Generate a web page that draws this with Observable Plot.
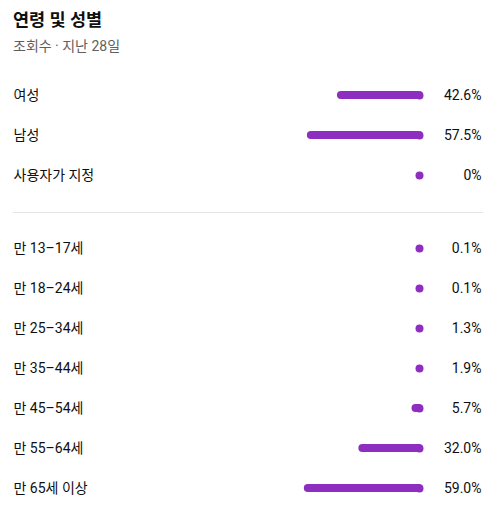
<!DOCTYPE html>
<html>
<head>
<meta charset="utf-8">
<script src="https://cdn.jsdelivr.net/npm/d3@7"></script>
<script src="https://cdn.jsdelivr.net/npm/@observablehq/plot@0.6"></script>
<style>
  html, body { margin: 0; padding: 0; background: #fff; overflow: hidden; }
  body { font-family: Roboto, "Noto Sans CJK KR", sans-serif; color: #0f0f0f; width: 499px; }
  #title { position: absolute; left: 13px; top: 8px; font-size: 17.5px; font-weight: bold; line-height: 24px; }
  #subtitle { position: absolute; left: 13px; top: 36px; font-size: 14px; color: #606060; line-height: 20px; }
  #g1 { position: absolute; left: 0; top: 75px; }
  #divider { position: absolute; left: 13px; top: 212px; width: 470px; height: 1px; background: #e5e5e5; }
  #g2 { position: absolute; left: 0; top: 228px; }
  svg { display: block; }
</style>
</head>
<body>
<div id="title">연령 및 성별</div>
<div id="subtitle">조회수 · 지난 28일</div>
<div id="g1"></div>
<div id="divider"></div>
<div id="g2"></div>
<script>
const genderLabels = ["여성", "남성", "사용자가 지정"];
const genderValues = [42.6, 57.5, 0];
const genderText = ["42.6%", "57.5%", "0%"];

const ageLabels = ["만 13–17세", "만 18–24세", "만 25–34세", "만 35–44세", "만 45–54세", "만 55–64세", "만 65세 이상"];
const ageValues = [0.1, 0.1, 1.3, 1.9, 5.7, 32.0, 59.0];
const ageText = ["0.1%", "0.1%", "1.3%", "1.9%", "5.7%", "32.0%", "59.0%"];

const purple = "#8e2ec1";

function chart(labels, values, texts) {
  const data = labels.map((l, i) => ({label: l, value: values[i], text: texts[i]}));
  return Plot.plot({
    width: 499,
    height: labels.length * 40,
    marginLeft: 221,
    marginRight: 76,
    marginTop: 0,
    marginBottom: 0,
    x: {domain: [0, 100], reverse: true, axis: null},
    y: {domain: labels, axis: null, padding: 0},
    style: {fontFamily: 'Roboto, "Noto Sans CJK KR", sans-serif', fontSize: "14px", background: "white", color: "#0f0f0f", overflow: "visible"},
    marks: [
      Plot.dot(data, {x: () => 0, y: "label", r: 4, dx: -4, fill: purple, stroke: null}),
      Plot.barX(data, {filter: d => d.value >= 4, x1: () => 0, x2: "value", y: "label", insetTop: 16, insetBottom: 16, rx: 4, fill: purple}),
      Plot.text(data, {y: "label", text: "label", frameAnchor: "left", textAnchor: "start", dx: -208, fontSize: 14, fill: "#0f0f0f"}),
      Plot.text(data, {y: "label", text: "text", frameAnchor: "right", textAnchor: "end", dx: 58, fontSize: 14, fill: "#0f0f0f"})
    ]
  });
}

document.getElementById("g1").appendChild(chart(genderLabels, genderValues, genderText));
document.getElementById("g2").appendChild(chart(ageLabels, ageValues, ageText));
</script>
</body>
</html>
